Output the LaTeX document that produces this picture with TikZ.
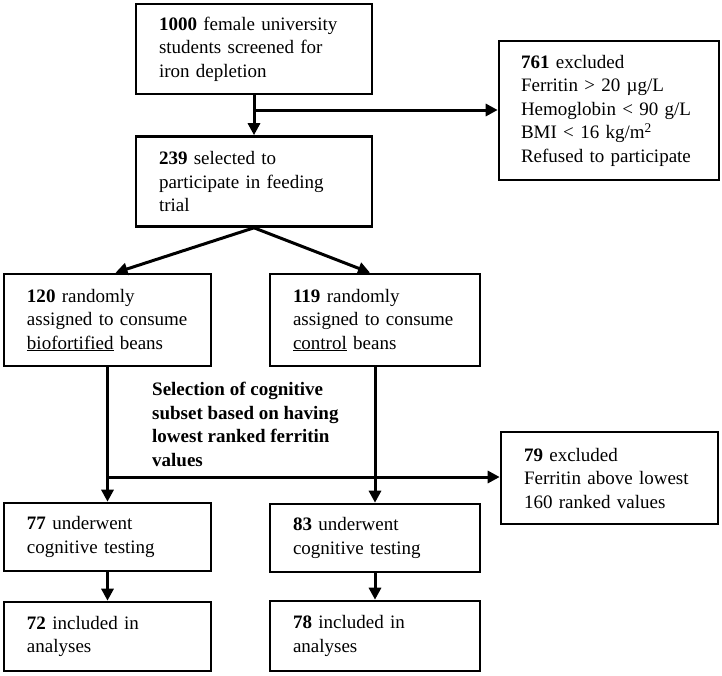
\documentclass[tikz,border=0pt]{standalone}
\usepackage{fontspec}
\setmainfont{Liberation Serif}
\usetikzlibrary{arrows.meta}

\tikzset{
	box/.style = {draw, line width=2.6pt, rectangle, align=left,
		inner xsep=23pt, inner ysep=0pt,
		font=\fontsize{19}{23.5}\selectfont},
	link/.style = {line width=3pt, -{Triangle[length=12pt, width=12pt]}},
	note/.style = {align=left, inner sep=0pt,
		font=\fontsize{19}{23.5}\selectfont\bfseries}
}

\begin{document}
\begin{tikzpicture}[x=1pt, y=-1pt]
		\useasboundingbox (0, 0) rectangle (722, 675);
		\node [box, text width=190pt, minimum height=90pt] (screen) at (254, 49)
			{\textbf{1000} female university\\students screened for\\iron depletion};
		\node [box, text width=190pt, minimum height=90pt] (select) at (254, 181.5)
			{\textbf{239} selected to\\participate in feeding\\trial};
		\node [box, inner xsep=22pt, text width=176pt, minimum height=139pt] (excl1) at (609, 110.5)
			{\textbf{761} excluded\\Ferritin > 20 µg/L\\Hemoglobin < 90 g/L\\BMI < 16 kg/m\textsuperscript{2}\\Refused to participate};
		\node [box, text width=161pt, minimum height=92pt] (bio) at (107.5, 320)
			{\textbf{120} randomly\\assigned to consume\\\underline{biofortified} beans};
		\node [box, text width=164pt, minimum height=92pt] (ctrl) at (375, 320)
			{\textbf{119} randomly\\assigned to consume\\\underline{control} beans};
		\node [note, anchor=north west] (subset) at (152, 382)
			{Selection of cognitive\\subset based on having\\lowest ranked ferritin\\values};
		\node [box, text width=171pt, minimum height=92pt] (excl2) at (609.5, 478)
			{\textbf{79} excluded\\Ferritin above lowest\\160 ranked values};
		\node [box, text width=161pt, minimum height=68pt] (testB) at (107.5, 537)
			{\textbf{77} underwent\\cognitive testing};
		\node [box, text width=164pt, minimum height=68pt] (testC) at (375, 538)
			{\textbf{83} underwent\\cognitive testing};
		\node [box, text width=161pt, minimum height=69pt] (anaB) at (107.5, 636.5)
			{\textbf{72} included in\\analyses};
		\node [box, text width=164pt, minimum height=70pt] (anaC) at (375, 636)
			{\textbf{78} included in\\analyses};
		\coordinate (split1) at (254, 110);
		\coordinate (split2) at (108, 477);
		\draw [link] (screen.south) -- (select.north);
		\draw [link] (split1) -- (excl1.west |- split1);
		\draw [link] (select.south) -- ([xshift=8pt]bio.north);
		\draw [link] (select.south) -- ([xshift=-5pt]ctrl.north);
		\draw [link] (bio.south) -- (testB.north);
		\draw [link] (ctrl.south) -- (testC.north);
		\draw [link] (split2) -- (excl2.west |- split2);
		\draw [link] (testB.south) -- (anaB.north);
		\draw [link] (testC.south) -- (anaC.north);
	\end{tikzpicture}
\end{document}
